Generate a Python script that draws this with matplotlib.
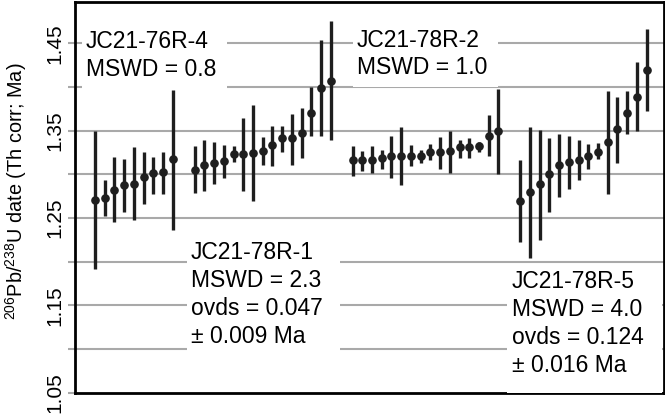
import numpy as np
import matplotlib
matplotlib.use('Agg')
import matplotlib.pyplot as plt
from matplotlib.patches import Rectangle

plt.rcParams['font.family'] = ['Liberation Sans', 'DejaVu Sans']
plt.rcParams['mathtext.fontset'] = 'custom'
plt.rcParams['mathtext.rm'] = 'Liberation Sans'
plt.rcParams['mathtext.default'] = 'regular'

# weighted-mean groups (dates in Ma, 2-sigma ranges)
samples = ['JC21-76R-4', 'JC21-78R-1', 'JC21-78R-2', 'JC21-78R-5']

date_76r4 = [1.271, 1.273, 1.282, 1.288, 1.289, 1.297, 1.302, 1.303, 1.317]
lo_76r4 = [1.192, 1.252, 1.245, 1.257, 1.248, 1.266, 1.278, 1.278, 1.236]
hi_76r4 = [1.350, 1.294, 1.320, 1.318, 1.331, 1.326, 1.320, 1.326, 1.397]

date_78r1 = [1.305, 1.311, 1.313, 1.315, 1.323, 1.323, 1.324, 1.327, 1.333,
             1.341, 1.342, 1.347, 1.370, 1.399, 1.407]
lo_78r1 = [1.279, 1.281, 1.289, 1.296, 1.314, 1.281, 1.270, 1.311, 1.310,
           1.325, 1.311, 1.319, 1.344, 1.344, 1.339]
hi_78r1 = [1.332, 1.339, 1.337, 1.334, 1.332, 1.365, 1.379, 1.343, 1.355,
           1.355, 1.369, 1.376, 1.400, 1.454, 1.476]

date_78r2 = [1.316, 1.316, 1.316, 1.319, 1.321, 1.321, 1.321, 1.321, 1.326,
             1.325, 1.327, 1.331, 1.331, 1.332, 1.344, 1.349]
lo_78r2 = [1.298, 1.304, 1.301, 1.306, 1.296, 1.288, 1.309, 1.313, 1.316,
           1.306, 1.301, 1.319, 1.319, 1.326, 1.321, 1.300]
hi_78r2 = [1.332, 1.327, 1.332, 1.328, 1.344, 1.354, 1.333, 1.328, 1.335,
           1.343, 1.349, 1.339, 1.342, 1.337, 1.368, 1.398]

date_78r5 = [1.270, 1.280, 1.289, 1.300, 1.311, 1.314, 1.316, 1.321, 1.326,
             1.337, 1.352, 1.370, 1.389, 1.419]
lo_78r5 = [1.222, 1.204, 1.225, 1.257, 1.274, 1.283, 1.294, 1.306, 1.317,
           1.278, 1.313, 1.346, 1.349, 1.372]
hi_78r5 = [1.316, 1.354, 1.351, 1.342, 1.346, 1.344, 1.339, 1.335, 1.336,
           1.395, 1.389, 1.395, 1.429, 1.466]

mswd = [0.8, 2.3, 1.0, 4.0]
ovds = [None, (0.047, 0.009), None, (0.124, 0.016)]

groups = [(date_76r4, lo_76r4, hi_76r4), (date_78r1, lo_78r1, hi_78r1),
          (date_78r2, lo_78r2, hi_78r2), (date_78r5, lo_78r5, hi_78r5)]

fig, ax = plt.subplots(figsize=(6.65, 4.18), dpi=100)
fig.subplots_adjust(left=0.1128, right=0.9985, bottom=0.0605, top=0.996)

# horizontal grid every 0.05 Ma
yticks = np.arange(1.05, 1.451, 0.05)
for yv in yticks[1:]:
    ax.axhline(yv, color='#a9a9a9', lw=1.5, zorder=0.5)

pos = 0.0
for date, lo, hi in groups:
    date = np.array(date)
    x = pos + np.arange(len(date))
    ax.errorbar(x, date, yerr=[date - np.array(lo), np.array(hi) - date],
                fmt='o', color='#1e1e1e', ms=5.2, lw=2.4, capsize=0, zorder=3)
    pos = x[-1] + 2.25

ax.set_xlim(-2.06, 58.54)
ax.set_ylim(1.05, 1.4976)
ax.set_xticks([])
ax.set_yticks(yticks)
ax.set_yticklabels([f'{t:.2f}' if i % 2 == 0 else '' for i, t in enumerate(yticks)],
                   rotation=90, va='center', fontsize=15)
ax.tick_params(axis='y', length=5, width=1.5, color='#a9a9a9', pad=3)
for s in ax.spines.values():
    s.set_linewidth(2)
    s.set_color('black')
ax.set_ylabel(r'$^{206}$Pb/$^{238}$U date (Th corr; Ma)', fontsize=14.3)
ax.yaxis.set_label_coords(-0.078, 0.5146)

# white label boxes (axes fraction)
boxes = [(0.0114, 0.7754, 0.2462, 0.165), (0.1902, 0.0836, 0.2599, 0.3197),
         (0.472, 0.7818, 0.2462, 0.16), (0.7334, 0.0, 0.2632, 0.3304)]
text_xy = [(0.0187, 0.8808), (0.1964, 0.3412), (0.478, 0.8849), (0.7414, 0.267)]
line_step = 0.071

for i, name in enumerate(samples):
    bx, by, bw, bh = boxes[i]
    ax.add_patch(Rectangle((bx, by), bw, bh, transform=ax.transAxes,
                           facecolor='white', edgecolor='none', zorder=4))
    lines = [name, f'MSWD = {mswd[i]:.1f}']
    if ovds[i] is not None:
        lines += [f'ovds = {ovds[i][0]:.3f}', f'\u00b1 {ovds[i][1]:.3f} Ma']
    for k, txt in enumerate(lines):
        ax.text(text_xy[i][0], text_xy[i][1] - k * line_step, txt,
                transform=ax.transAxes, ha='left', va='baseline',
                fontsize=16.5, zorder=5)

plt.savefig('out.png', dpi=100)
